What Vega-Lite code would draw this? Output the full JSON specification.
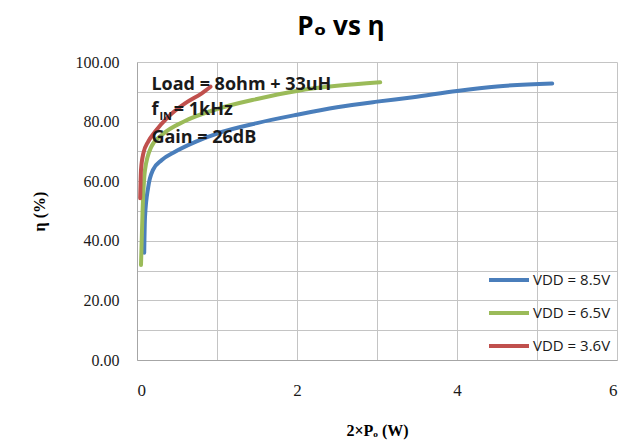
{
  "$schema": "https://vega.github.io/schema/vega-lite/v6.json",
  "autosize": "none",
  "padding": {"left": 137, "top": 62, "right": 17, "bottom": 81},
  "width": 480,
  "height": 298,
  "background": "white",
  "title": {
    "text": "Pₒ vs η",
    "font": "Open Sans, DejaVu Sans",
    "fontSize": 26,
    "fontWeight": "bold",
    "color": "#000000",
    "anchor": "middle",
    "offset": 14,
    "dx": -36
  },
  "config": {
    "view": {"stroke": null},
    "axis": {
      "gridColor": "#c4c4c4",
      "gridWidth": 1,
      "domainColor": "#a6a6a6",
      "ticks": false,
      "labelFont": "Liberation Serif",
      "labelColor": "#1a1a1a",
      "titleFont": "Liberation Serif",
      "titleColor": "#000000",
      "titleFontWeight": "bold"
    }
  },
  "datasets": {
    "curves": [
      {"vdd": "VDD = 8.5V", "p": 0.09, "eff": 36.0},
      {"vdd": "VDD = 8.5V", "p": 0.10, "eff": 48.0},
      {"vdd": "VDD = 8.5V", "p": 0.14, "eff": 58.0},
      {"vdd": "VDD = 8.5V", "p": 0.20, "eff": 63.8},
      {"vdd": "VDD = 8.5V", "p": 0.31, "eff": 67.1},
      {"vdd": "VDD = 8.5V", "p": 0.47, "eff": 69.8},
      {"vdd": "VDD = 8.5V", "p": 0.73, "eff": 73.2},
      {"vdd": "VDD = 8.5V", "p": 1.0, "eff": 76.0},
      {"vdd": "VDD = 8.5V", "p": 1.5, "eff": 79.5},
      {"vdd": "VDD = 8.5V", "p": 2.0, "eff": 82.3},
      {"vdd": "VDD = 8.5V", "p": 2.5, "eff": 84.8},
      {"vdd": "VDD = 8.5V", "p": 3.0, "eff": 86.7},
      {"vdd": "VDD = 8.5V", "p": 3.45, "eff": 88.2},
      {"vdd": "VDD = 8.5V", "p": 4.0, "eff": 90.3},
      {"vdd": "VDD = 8.5V", "p": 4.5, "eff": 91.8},
      {"vdd": "VDD = 8.5V", "p": 5.19, "eff": 92.8},
      {"vdd": "VDD = 6.5V", "p": 0.05, "eff": 31.9},
      {"vdd": "VDD = 6.5V", "p": 0.07, "eff": 50.3},
      {"vdd": "VDD = 6.5V", "p": 0.10, "eff": 63.8},
      {"vdd": "VDD = 6.5V", "p": 0.18, "eff": 71.6},
      {"vdd": "VDD = 6.5V", "p": 0.31, "eff": 75.5},
      {"vdd": "VDD = 6.5V", "p": 0.6, "eff": 80.2},
      {"vdd": "VDD = 6.5V", "p": 1.0, "eff": 84.2},
      {"vdd": "VDD = 6.5V", "p": 1.5, "eff": 87.6},
      {"vdd": "VDD = 6.5V", "p": 2.0, "eff": 90.3},
      {"vdd": "VDD = 6.5V", "p": 2.5, "eff": 92.0},
      {"vdd": "VDD = 6.5V", "p": 3.04, "eff": 93.2},
      {"vdd": "VDD = 3.6V", "p": 0.04, "eff": 54.3},
      {"vdd": "VDD = 3.6V", "p": 0.05, "eff": 63.8},
      {"vdd": "VDD = 3.6V", "p": 0.08, "eff": 69.4},
      {"vdd": "VDD = 3.6V", "p": 0.14, "eff": 73.3},
      {"vdd": "VDD = 3.6V", "p": 0.225, "eff": 76.6},
      {"vdd": "VDD = 3.6V", "p": 0.39, "eff": 81.6},
      {"vdd": "VDD = 3.6V", "p": 0.6, "eff": 86.1},
      {"vdd": "VDD = 3.6V", "p": 0.81, "eff": 89.5},
      {"vdd": "VDD = 3.6V", "p": 0.92, "eff": 91.7}
    ],
    "notes": [
      {"p": 0.18, "eff": 90.6, "label": "Load = 8ohm + 33uH"},
      {"p": 0.18, "eff": 82.2, "label": "f"},
      {"p": 0.46, "eff": 82.2, "label": "= 1kHz"},
      {"p": 0.18, "eff": 72.7, "label": "Gain = 26dB"}
    ],
    "subs": [
      {"p": 0.28, "eff": 82.2, "label": "IN"}
    ]
  },
  "encoding": {
    "x": {
      "field": "p",
      "type": "quantitative",
      "scale": {"domain": [0, 6], "nice": false},
      "axis": {
        "title": "2×Pₒ (W)",
        "titleFontSize": 16,
        "titlePadding": 24,
        "values": [0, 1, 2, 3, 4, 5, 6],
        "labelExpr": "datum.value % 2 == 0 ? datum.label : ''",
        "labelFontSize": 17,
        "labelPadding": 22
      }
    },
    "y": {
      "field": "eff",
      "type": "quantitative",
      "scale": {"domain": [0, 100], "nice": false},
      "axis": {
        "title": "η (%)",
        "titleFontSize": 16,
        "titlePadding": 28,
        "values": [0, 10, 20, 30, 40, 50, 60, 70, 80, 90, 100],
        "format": ".2f",
        "labelExpr": "datum.value % 20 == 0 ? datum.label : ''",
        "labelFontSize": 16,
        "labelPadding": 18
      }
    }
  },
  "layer": [
    {
      "data": {"name": "curves"},
      "mark": {"type": "line", "interpolate": "monotone", "strokeWidth": 4, "strokeCap": "round"},
      "encoding": {
        "color": {
          "field": "vdd",
          "type": "nominal",
          "scale": {
            "domain": ["VDD = 8.5V", "VDD = 6.5V", "VDD = 3.6V"],
            "range": ["#4a7ebb", "#9bbb59", "#c0504d"]
          },
          "legend": {
            "title": null,
            "orient": "bottom-right",
            "offset": 6,
            "symbolType": "stroke",
            "symbolSize": 1600,
            "symbolStrokeWidth": 4,
            "labelFont": "Open Sans",
            "labelFontSize": 15,
            "labelColor": "#1a1a1a",
            "labelOffset": 2,
            "rowPadding": 3
          }
        }
      }
    },
    {
      "data": {"name": "notes"},
      "mark": {"type": "text", "align": "left", "baseline": "alphabetic", "font": "Open Sans", "fontWeight": "bold", "fontSize": 18, "color": "#1a1a1a"},
      "encoding": {"text": {"field": "label"}}
    },
    {
      "data": {"name": "subs"},
      "mark": {"type": "text", "align": "left", "baseline": "alphabetic", "font": "Open Sans", "fontWeight": "bold", "fontSize": 11, "dy": 5, "color": "#1a1a1a"},
      "encoding": {"text": {"field": "label"}}
    }
  ]
}
